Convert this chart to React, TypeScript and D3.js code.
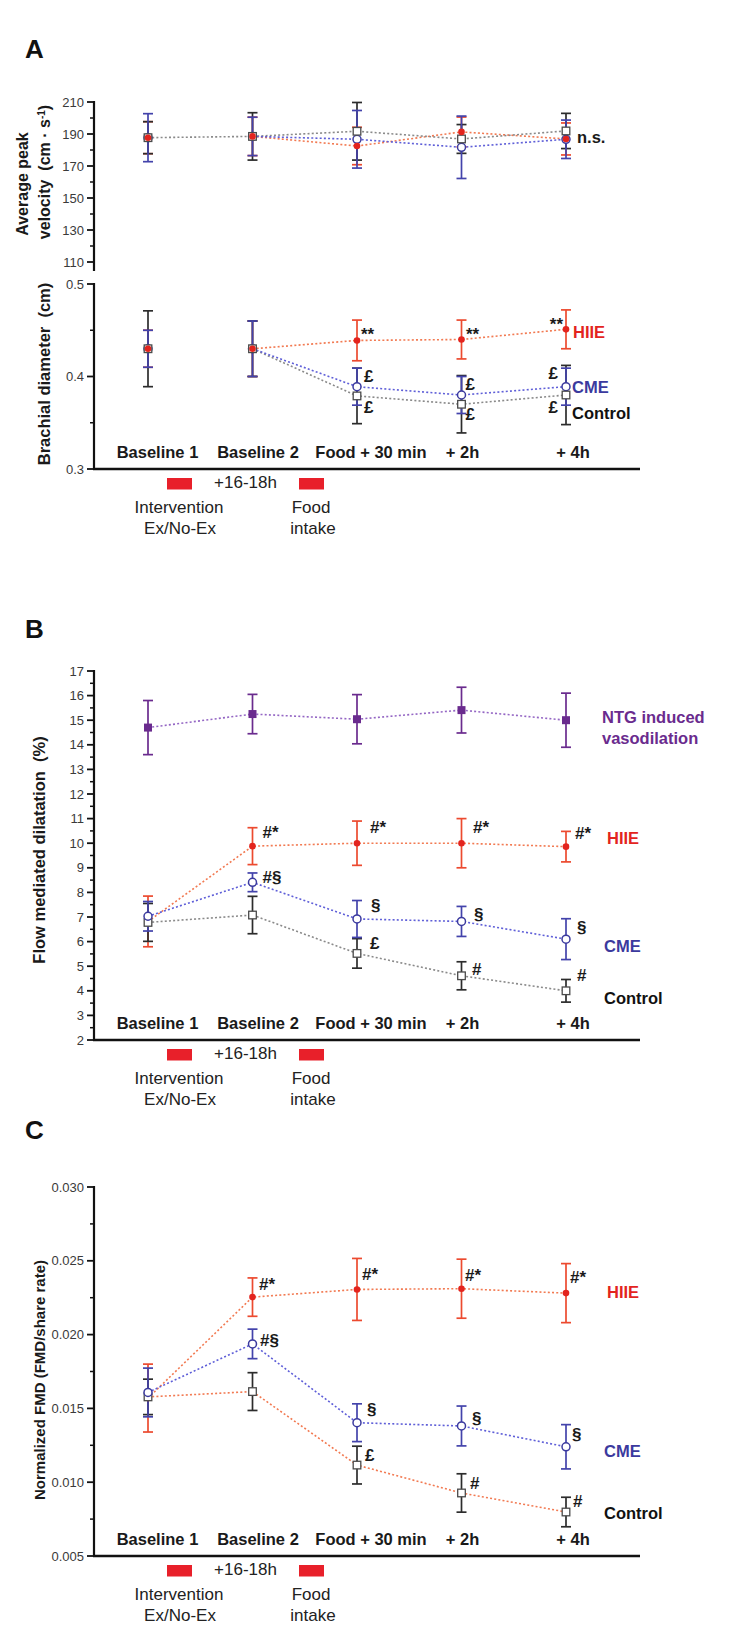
import React from 'react';
import * as d3 from 'd3';

// ---------- DATA ----------
const categories = ['Baseline 1', 'Baseline 2', 'Food + 30 min', '+ 2h', '+ 4h'];

// Panel A (top): average peak velocity (cm/s)
const velHIIE = [187.7, 188.5, 182.5, 191.3, 186.9];
const velHIIEErr = [10, 12, 11.7, 9.3, 10];
const velCME = [187.7, 188.5, 186.7, 181.7, 186.7];
const velCMEErr = [15, 12, 18, 19.5, 12];
const velControl = [187.7, 188.5, 191.7, 186.9, 191.9];
const velControlErr = [10, 14.8, 18, 9, 11];

// Panel A (bottom): brachial diameter (cm)
const diaHIIE = [0.43, 0.43, 0.439, 0.44, 0.451];
const diaHIIEErr = [0.02, 0.03, 0.022, 0.021, 0.021];
const diaCME = [0.43, 0.43, 0.389, 0.38, 0.389];
const diaCMEErr = [0.02, 0.03, 0.02, 0.02, 0.02];
const diaControl = [0.43, 0.43, 0.379, 0.37, 0.38];
const diaControlErr = [0.041, 0.03, 0.03, 0.031, 0.032];

// Panel B: flow mediated dilatation (%)
const fmdNTG = [14.7, 15.25, 15.04, 15.41, 15.0];
const fmdNTGErr = [1.1, 0.8, 1.0, 0.93, 1.1];
const fmdHIIE = [6.82, 9.88, 10.0, 10.0, 9.86];
const fmdHIIEErr = [1.03, 0.75, 0.9, 1.0, 0.62];
const fmdCME = [7.03, 8.41, 6.92, 6.82, 6.1];
const fmdCMEErr = [0.6, 0.38, 0.75, 0.61, 0.83];
const fmdControl = [6.78, 7.08, 5.52, 4.61, 4.0];
const fmdControlErr = [0.77, 0.76, 0.6, 0.57, 0.46];

// Panel C: normalized FMD (FMD / shear rate)
const nHIIE = [0.0157, 0.02254, 0.02306, 0.02311, 0.02281];
const nHIIEErr = [0.0023, 0.0013, 0.0021, 0.002, 0.002];
const nCME = [0.01608, 0.01937, 0.01403, 0.01381, 0.0124];
const nCMEErr = [0.00165, 0.001, 0.00128, 0.00135, 0.0015];
const nControl = [0.01578, 0.01614, 0.01116, 0.00927, 0.00798];
const nControlErr = [0.0012, 0.00128, 0.00128, 0.0013, 0.001];

// Tick values
const velMajor = [110, 130, 150, 170, 190, 210];
const velMinor = [120, 140, 160, 180, 200];
const diaMajor = [0.3, 0.4, 0.5];
const diaMinor = [0.35, 0.45];
const fmdMajor = d3.range(2, 18, 1);
const fmdMinor = d3.range(2.5, 17, 1);
const nMajor = [0.005, 0.01, 0.015, 0.02, 0.025, 0.03];
const nMinor = [0.0075, 0.0125, 0.0175, 0.0225, 0.0275];

// Significance marks: [series, category index, text]
const diaMarks: [string, number, string][] = [
  ['HIIE', 2, '**'], ['HIIE', 3, '**'], ['HIIE', 4, '**'],
  ['CME', 2, '£'], ['Control', 2, '£'],
  ['CME', 3, '£'], ['Control', 3, '£'],
  ['CME', 4, '£'], ['Control', 4, '£'],
];
const fmdMarks: [string, number, string][] = [
  ['HIIE', 1, '#*'], ['HIIE', 2, '#*'], ['HIIE', 3, '#*'], ['HIIE', 4, '#*'],
  ['CME', 1, '#§'], ['CME', 2, '§'], ['Control', 2, '£'],
  ['CME', 3, '§'], ['Control', 3, '#'], ['CME', 4, '§'], ['Control', 4, '#'],
];
const nMarks: [string, number, string][] = [
  ['HIIE', 1, '#*'], ['HIIE', 2, '#*'], ['HIIE', 3, '#*'], ['HIIE', 4, '#*'],
  ['CME', 1, '#§'], ['CME', 2, '§'], ['Control', 2, '£'],
  ['CME', 3, '§'], ['Control', 3, '#'], ['CME', 4, '§'], ['Control', 4, '#'],
];

// ---------- LAYOUT / STYLE ----------
const W = 729;
const H = 1642;
const AX = 94;
const XR = 640;
const FONT = "'Liberation Sans', Arial, Helvetica, sans-serif";

const x = d3.scalePoint<string>().domain(categories).range([148, 566]).padding(0);
const xi = (i: number) => x(categories[i]) as number;

const velY = d3.scaleLinear().domain([105, 210]).range([270, 102]);
const diaY = d3.scaleLinear().domain([0.3, 0.5]).range([469, 284]);
const fmdY = d3.scaleLinear().domain([2, 17]).range([1040, 671]);
const nY = d3.scaleLinear().domain([0.005, 0.03]).range([1556, 1187]);

const C = {
  HIIE: { mark: '#e3241e', err: '#ec4a2f', line: '#f27a52', label: '#e3241e' },
  CME: { mark: '#3b3a9e', err: '#4343ab', line: '#5f5fd8', label: '#3b3a9e' },
  Control: { mark: '#4a4a4a', err: '#2c2c2c', line: '#8a8a8a', label: '#111111' },
  ControlC: { mark: '#4a4a4a', err: '#2c2c2c', line: '#f27a52', label: '#111111' },
  NTG: { mark: '#6a2b8e', err: '#6a2b8e', line: '#9466c4', label: '#6a2b8e' },
};

const labelDx = [9.5, 5.5, 14, 1, 7];

const diaMarkOff: [number, number, string][] = [
  [4, 0, 'start'], [4.5, 0, 'start'], [-3, 1, 'end'],
  [7, -5, 'start'], [7, 17, 'start'],
  [4, -5, 'start'], [4, 16, 'start'],
  [-8, -8, 'end'], [-8, 18, 'end'],
];
const fmdMarkOff: [number, number, string][] = [
  [10, -8, 'start'], [13, -10, 'start'], [11.5, -10, 'start'], [9, -8, 'start'],
  [10, 1, 'start'], [14, -8, 'start'], [13, -4, 'start'],
  [12.5, -1, 'start'], [10.5, -1, 'start'], [11, -6, 'start'], [11, -10, 'start'],
];
const nMarkOff: [number, number, string][] = [
  [6.5, -7, 'start'], [5, -9, 'start'], [3.5, -8, 'start'], [4, -10, 'start'],
  [7.5, 2, 'start'], [10, -8, 'start'], [8, -4, 'start'],
  [10.5, -2, 'start'], [8.5, -4, 'start'], [6, -7, 'start'], [7, -5, 'start'],
];

type Marker = 'dot' | 'circle' | 'square' | 'fsquare';
type Ser = {
  key: string;
  values: number[];
  errs: number[];
  marker: Marker;
  col: { mark: string; err: string; line: string; label: string };
  lineFrom: number;
};

function Lines({ series, y }: { series: Ser[]; y: d3.ScaleLinear<number, number> }) {
  const line = d3
    .line<[number, number]>()
    .x((d) => xi(d[0]))
    .y((d) => y(d[1]));
  return (
    <g>
      {series.map((s) => (
        <path
          key={'l' + s.key}
          d={line(s.values.map((v, i) => [i, v] as [number, number]).slice(s.lineFrom)) || ''}
          fill="none"
          stroke={s.col.line}
          strokeWidth={1.6}
          strokeDasharray="2,2.2"
        />
      ))}
    </g>
  );
}

function ErrBars({ series, y }: { series: Ser[]; y: d3.ScaleLinear<number, number> }) {
  return (
    <g>
      {series.map((s) => (
        <g key={'e' + s.key} stroke={s.col.err} strokeWidth={1.7}>
          {s.values.map((v, i) => {
            const cx = xi(i);
            const y1 = y(v + s.errs[i]);
            const y2 = y(v - s.errs[i]);
            return (
              <g key={i}>
                <line x1={cx} x2={cx} y1={y1} y2={y2} />
                <line x1={cx - 5} x2={cx + 5} y1={y1} y2={y1} />
                <line x1={cx - 5} x2={cx + 5} y1={y2} y2={y2} />
              </g>
            );
          })}
        </g>
      ))}
    </g>
  );
}

function Markers({ series, y }: { series: Ser[]; y: d3.ScaleLinear<number, number> }) {
  return (
    <g>
      {series.map((s) => (
        <g key={'m' + s.key}>
          {s.values.map((v, i) => {
            const cx = xi(i);
            const cy = y(v);
            if (s.marker === 'dot') return <circle key={i} cx={cx} cy={cy} r={3.3} fill={s.col.mark} />;
            if (s.marker === 'circle')
              return <circle key={i} cx={cx} cy={cy} r={4} fill="white" stroke={s.col.mark} strokeWidth={1.5} />;
            if (s.marker === 'square')
              return (
                <rect key={i} x={cx - 3.8} y={cy - 3.8} width={7.6} height={7.6} fill="white" stroke={s.col.mark} strokeWidth={1.3} />
              );
            return <rect key={i} x={cx - 4} y={cy - 4} width={8} height={8} fill={s.col.mark} />;
          })}
        </g>
      ))}
    </g>
  );
}

function YAxis({
  y,
  majors,
  minors,
  fmt,
}: {
  y: d3.ScaleLinear<number, number>;
  majors: number[];
  minors: number[];
  fmt: (v: number) => string;
}) {
  const [d0, d1] = y.domain();
  return (
    <g>
      <line x1={AX} x2={AX} y1={y(d0) + 1} y2={y(d1) - 1} stroke="#111" strokeWidth={2.2} />
      {majors.map((v) => (
        <g key={'M' + v}>
          <line x1={AX - 7} x2={AX} y1={y(v)} y2={y(v)} stroke="#111" strokeWidth={1.8} />
          <text x={AX - 10} y={y(v)} dy="0.36em" textAnchor="end" fontSize={13} fill="#3a3a3a" fontFamily={FONT}>
            {fmt(v)}
          </text>
        </g>
      ))}
      {minors.map((v) => (
        <line key={'m' + v} x1={AX - 4} x2={AX} y1={y(v)} y2={y(v)} stroke="#111" strokeWidth={1.5} />
      ))}
    </g>
  );
}

function XAxis({ yPos }: { yPos: number }) {
  return (
    <g>
      <line x1={AX - 1} x2={XR} y1={yPos} y2={yPos} stroke="#111" strokeWidth={2.4} />
      {categories.map((c, i) => (
        <text
          key={c}
          x={xi(i) + labelDx[i]}
          y={yPos - 11}
          textAnchor="middle"
          fontSize={16.5}
          fontWeight="bold"
          fill="#1a1a1a"
          fontFamily={FONT}
        >
          {c}
        </text>
      ))}
    </g>
  );
}

function Timeline({ yPos }: { yPos: number }) {
  const b1 = xi(0) + 19;
  const b2 = xi(1) + 46.5;
  const t = { fontFamily: FONT, fontSize: 17, fill: '#222' } as const;
  return (
    <g>
      <rect x={b1} y={yPos + 9} width={25} height={11.5} fill="#e8202a" />
      <rect x={b2} y={yPos + 9} width={25} height={11.5} fill="#e8202a" />
      <text {...t} x={(b1 + 25 + b2) / 2} y={yPos + 19} textAnchor="middle">
        +16-18h
      </text>
      <text {...t} x={b1 + 12} y={yPos + 44} textAnchor="middle">
        Intervention
      </text>
      <text {...t} x={b1 + 13} y={yPos + 65} textAnchor="middle">
        Ex/No-Ex
      </text>
      <text {...t} x={b2 + 12} y={yPos + 44} textAnchor="middle">
        Food
      </text>
      <text {...t} x={b2 + 14} y={yPos + 65} textAnchor="middle">
        intake
      </text>
    </g>
  );
}

function Marks({
  marks,
  offs,
  series,
  y,
}: {
  marks: [string, number, string][];
  offs: [number, number, string][];
  series: Ser[];
  y: d3.ScaleLinear<number, number>;
}) {
  return (
    <g>
      {marks.map(([k, i, t], j) => {
        const s = series.find((q) => q.key === k)!;
        const [dx, dy, anchor] = offs[j];
        return (
          <text
            key={j}
            x={xi(i) + dx}
            y={y(s.values[i]) + dy}
            textAnchor={anchor as any}
            fontSize={17}
            fontWeight="bold"
            fill="#1a1a1a"
            fontFamily={FONT}
          >
            {t}
          </text>
        );
      })}
    </g>
  );
}

function GroupLabel({
  s,
  y,
  dx,
  dy,
  text,
  color,
}: {
  s: Ser;
  y: d3.ScaleLinear<number, number>;
  dx: number;
  dy: number;
  text: string;
  color: string;
}) {
  const last = s.values.length - 1;
  return (
    <text
      x={xi(last) + dx}
      y={y(s.values[last]) + dy}
      fontSize={16.5}
      fontWeight="bold"
      fill={color}
      fontFamily={FONT}
    >
      {text}
    </text>
  );
}

function Title({ cx, cy, children, size = 16 }: { cx: number; cy: number; children: React.ReactNode; size?: number }) {
  return (
    <text
      transform={`translate(${cx},${cy}) rotate(-90)`}
      textAnchor="middle"
      fontSize={size}
      fontWeight="bold"
      fill="#1a1a1a"
      fontFamily={FONT}
    >
      {children}
    </text>
  );
}

function Plot({ series, y, markerOrder }: { series: Ser[]; y: d3.ScaleLinear<number, number>; markerOrder?: Ser[] }) {
  return (
    <g>
      <Lines series={series} y={y} />
      <ErrBars series={series} y={y} />
      <Markers series={markerOrder || series} y={y} />
    </g>
  );
}

export default function App() {
  const velSeries: Ser[] = [
    { key: 'HIIE', values: velHIIE, errs: velHIIEErr, marker: 'dot', col: C.HIIE, lineFrom: 1 },
    { key: 'Control', values: velControl, errs: velControlErr, marker: 'square', col: C.Control, lineFrom: 0 },
    { key: 'CME', values: velCME, errs: velCMEErr, marker: 'circle', col: C.CME, lineFrom: 1 },
  ];
  const velMarkers: Ser[] = [velSeries[2], velSeries[1], velSeries[0]];
  const diaSeries: Ser[] = [
    { key: 'HIIE', values: diaHIIE, errs: diaHIIEErr, marker: 'dot', col: C.HIIE, lineFrom: 1 },
    { key: 'Control', values: diaControl, errs: diaControlErr, marker: 'square', col: C.Control, lineFrom: 1 },
    { key: 'CME', values: diaCME, errs: diaCMEErr, marker: 'circle', col: C.CME, lineFrom: 1 },
  ];
  const diaMarkers: Ser[] = [diaSeries[2], diaSeries[1], diaSeries[0]];
  const fmdSeries: Ser[] = [
    { key: 'NTG', values: fmdNTG, errs: fmdNTGErr, marker: 'fsquare', col: C.NTG, lineFrom: 0 },
    { key: 'HIIE', values: fmdHIIE, errs: fmdHIIEErr, marker: 'dot', col: C.HIIE, lineFrom: 0 },
    { key: 'Control', values: fmdControl, errs: fmdControlErr, marker: 'square', col: C.Control, lineFrom: 0 },
    { key: 'CME', values: fmdCME, errs: fmdCMEErr, marker: 'circle', col: C.CME, lineFrom: 0 },
  ];
  const nSeries: Ser[] = [
    { key: 'HIIE', values: nHIIE, errs: nHIIEErr, marker: 'dot', col: C.HIIE, lineFrom: 0 },
    { key: 'Control', values: nControl, errs: nControlErr, marker: 'square', col: C.ControlC, lineFrom: 0 },
    { key: 'CME', values: nCME, errs: nCMEErr, marker: 'circle', col: C.CME, lineFrom: 0 },
  ];
  const get = (arr: Ser[], k: string) => arr.find((s) => s.key === k)!;

  const letter = { fontFamily: FONT, fontSize: 26, fontWeight: 'bold', fill: '#111' } as const;

  return (
    <svg
      width={W}
      height={H}
      viewBox={`0 0 ${W} ${H}`}
      style={{ position: 'absolute', left: 0, top: 0, background: 'white' }}
    >
      <rect width={W} height={H} fill="white" />
      {/* Panel letters */}
      <text {...letter} x={25} y={58}>A</text>
      <text {...letter} x={25} y={638}>B</text>
      <text {...letter} x={25} y={1139}>C</text>

      {/* ---------- Panel A top ---------- */}
      <Title cx={28} cy={184} size={16}>Average peak</Title>
      <Title cx={50} cy={172} size={16}>
        velocity{'\u00a0\u00a0'}(cm · s<tspan baselineShift="super" fontSize={10}>-1</tspan>)
      </Title>
      <YAxis y={velY} majors={velMajor} minors={velMinor} fmt={(v) => String(v)} />
      <Plot series={velSeries} y={velY} markerOrder={velMarkers} />
      <GroupLabel s={get(velSeries, 'CME')} y={velY} dx={11} dy={4} text="n.s." color="#1a1a1a" />

      {/* ---------- Panel A bottom ---------- */}
      <Title cx={50} cy={374} size={16.5}>Brachial diameter{'\u00a0\u00a0'}(cm)</Title>
      <YAxis y={diaY} majors={diaMajor} minors={diaMinor} fmt={(v) => d3.format('.1f')(v)} />
      <XAxis yPos={diaY(0.3)} />
      <Plot series={diaSeries} y={diaY} markerOrder={diaMarkers} />
      <Marks marks={diaMarks} offs={diaMarkOff} series={diaSeries} y={diaY} />
      <GroupLabel s={get(diaSeries, 'HIIE')} y={diaY} dx={7} dy={9} text="HIIE" color={C.HIIE.label} />
      <GroupLabel s={get(diaSeries, 'CME')} y={diaY} dx={6} dy={6.6} text="CME" color={C.CME.label} />
      <GroupLabel s={get(diaSeries, 'Control')} y={diaY} dx={6} dy={24} text="Control" color={C.Control.label} />
      <Timeline yPos={diaY(0.3)} />

      {/* ---------- Panel B ---------- */}
      <Title cx={45} cy={850} size={16.5}>Flow mediated dilatation{'\u00a0\u00a0'}(%)</Title>
      <YAxis y={fmdY} majors={fmdMajor} minors={fmdMinor} fmt={(v) => String(v)} />
      <XAxis yPos={fmdY(2)} />
      <Plot series={fmdSeries} y={fmdY} />
      <Marks marks={fmdMarks} offs={fmdMarkOff} series={fmdSeries} y={fmdY} />
      <GroupLabel s={get(fmdSeries, 'NTG')} y={fmdY} dx={36} dy={3} text="NTG induced" color={C.NTG.label} />
      <GroupLabel s={get(fmdSeries, 'NTG')} y={fmdY} dx={36} dy={24} text="vasodilation" color={C.NTG.label} />
      <GroupLabel s={get(fmdSeries, 'HIIE')} y={fmdY} dx={41} dy={-3} text="HIIE" color={C.HIIE.label} />
      <GroupLabel s={get(fmdSeries, 'CME')} y={fmdY} dx={38} dy={13} text="CME" color={C.CME.label} />
      <GroupLabel s={get(fmdSeries, 'Control')} y={fmdY} dx={38} dy={13} text="Control" color={C.Control.label} />
      <Timeline yPos={fmdY(2)} />

      {/* ---------- Panel C ---------- */}
      <Title cx={45} cy={1380} size={15}>Normalized FMD (FMD/share rate)</Title>
      <YAxis y={nY} majors={nMajor} minors={nMinor} fmt={(v) => d3.format('.3f')(v)} />
      <XAxis yPos={nY(0.005)} />
      <Plot series={nSeries} y={nY} />
      <Marks marks={nMarks} offs={nMarkOff} series={nSeries} y={nY} />
      <GroupLabel s={get(nSeries, 'HIIE')} y={nY} dx={41} dy={5} text="HIIE" color={C.HIIE.label} />
      <GroupLabel s={get(nSeries, 'CME')} y={nY} dx={38} dy={10} text="CME" color={C.CME.label} />
      <GroupLabel s={get(nSeries, 'Control')} y={nY} dx={38} dy={7} text="Control" color={C.Control.label} />
      <Timeline yPos={nY(0.005)} />
    </svg>
  );
}
